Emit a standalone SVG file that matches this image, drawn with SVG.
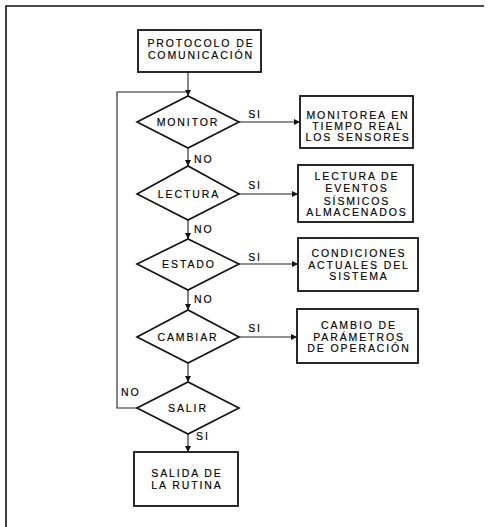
<svg xmlns="http://www.w3.org/2000/svg" width="489" height="527" viewBox="0 0 489 527">
<style>
.b{fill:#fff;stroke:#111;stroke-width:1.8}
.d{fill:#fff;stroke:#111;stroke-width:1.6}
.c{fill:none;stroke:#222;stroke-width:1.1}
.f{fill:none;stroke:#111;stroke-width:1.6}
text{font-family:"Liberation Sans",Arial,sans-serif;font-size:10.5px;letter-spacing:1.9px;fill:#000;stroke:#000;stroke-width:0.15;text-anchor:middle}
.l{text-anchor:start}
</style>
<defs>
<marker id="ah" viewBox="0 0 8 8" refX="8" refY="4" markerWidth="6" markerHeight="6" markerUnits="userSpaceOnUse" orient="auto">
<path d="M0,0 L8,4 L0,8 z" fill="#111"/>
</marker>
</defs>
<rect width="489" height="527" fill="#fff"/>
<path class="f" d="M6,527 L6,6 L484,6"/>
<g id="connectors">
<path class="c" d="M188,72 L188,96" marker-end="url(#ah)"/>
<path class="c" d="M137,408 L117,408 L117,92 L188,92"/>
<path class="c" d="M188,148 L188,166" marker-end="url(#ah)"/>
<path class="c" d="M188,220 L188,239" marker-end="url(#ah)"/>
<path class="c" d="M188,290 L188,310" marker-end="url(#ah)"/>
<path class="c" d="M188,363 L188,382" marker-end="url(#ah)"/>
<path class="c" d="M188,434 L188,452" marker-end="url(#ah)"/>
<path class="c" d="M239,122 L300,122" marker-end="url(#ah)"/>
<path class="c" d="M239,194 L298,194" marker-end="url(#ah)"/>
<path class="c" d="M239,264 L298,264" marker-end="url(#ah)"/>
<path class="c" d="M239,337 L297,337" marker-end="url(#ah)"/>
<text x="255" y="118">SI</text>
<text x="255" y="189">SI</text>
<text x="255" y="261">SI</text>
<text x="255" y="332">SI</text>
<text class="l" x="194" y="163">NO</text>
<text class="l" x="194" y="233">NO</text>
<text class="l" x="194" y="303">NO</text>
<text class="l" x="121" y="396">NO</text>
<text class="l" x="196" y="440">SI</text>
</g>
<g id="protocolo">
<rect class="b" x="138" y="30" width="123" height="42"/>
<text x="201" y="47">PROTOCOLO DE</text>
<text x="201" y="59">COMUNICACIÓN</text>
</g>
<g id="monitor">
<polygon class="d" points="137,122 188,96 239,122 188,148"/>
<text x="188" y="126">MONITOR</text>
</g>
<g id="lectura">
<polygon class="d" points="137,194 188,166 239,194 188,220"/>
<text x="189" y="198">LECTURA</text>
</g>
<g id="estado">
<polygon class="d" points="137,264 188,239 239,264 188,290"/>
<text x="189" y="268">ESTADO</text>
</g>
<g id="cambiar">
<polygon class="d" points="137,337 188,310 239,337 188,363"/>
<text x="188" y="341">CAMBIAR</text>
</g>
<g id="salir">
<polygon class="d" points="137,408 188,382 239,408 188,434"/>
<text x="188" y="412">SALIR</text>
</g>
<g id="monitorea">
<rect class="b" x="300" y="96" width="113" height="52"/>
<text x="358" y="119">MONITOREA EN</text>
<text x="358" y="130">TIEMPO REAL</text>
<text x="358" y="141">LOS SENSORES</text>
</g>
<g id="lectura_eventos">
<rect class="b" x="298" y="165" width="115" height="57"/>
<text x="357" y="180">LECTURA DE</text>
<text x="357" y="192">EVENTOS</text>
<text x="357" y="205">SÍSMICOS</text>
<text x="357" y="216">ALMACENADOS</text>
</g>
<g id="condiciones">
<rect class="b" x="298" y="238" width="120" height="53"/>
<text x="359" y="257">CONDICIONES</text>
<text x="359" y="269">ACTUALES DEL</text>
<text x="359" y="280">SISTEMA</text>
</g>
<g id="cambio">
<rect class="b" x="297" y="309" width="121" height="54"/>
<text x="359" y="329">CAMBIO DE</text>
<text x="359" y="341">PARÁMETROS</text>
<text x="359" y="352">DE OPERACIÓN</text>
</g>
<g id="salida">
<rect class="b" x="134" y="452" width="104" height="54"/>
<text x="187" y="477">SALIDA DE</text>
<text x="187" y="489">LA RUTINA</text>
</g>
</svg>
